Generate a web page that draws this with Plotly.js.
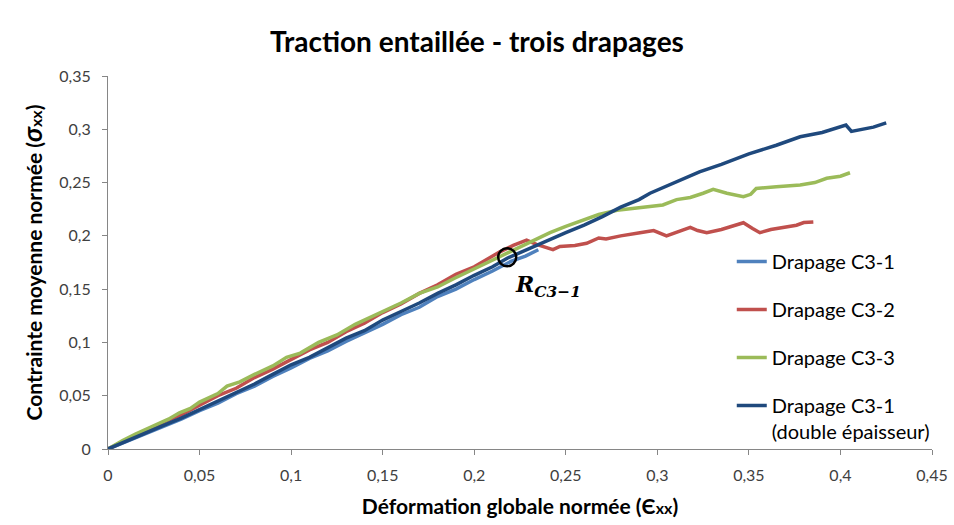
<!DOCTYPE html>
<html>
<head>
<meta charset="utf-8">
<script src="https://cdn.plot.ly/plotly-3.0.1.min.js"></script>
<style>html,body{margin:0;padding:0;background:#fff;}#chart{width:954px;height:525px;}</style>
</head>
<body>
<div id="chart"></div>
<script>
// ---- Data ----
const xC31 = [0,0.01,0.02,0.03,0.04,0.05,0.06,0.07,0.08,0.09,0.10,0.11,0.12,0.13,0.14,0.15,0.16,0.17,0.18,0.19,0.20,0.21,0.22,0.228,0.235];
const yC31 = [0,0.007,0.0145,0.021,0.028,0.036,0.043,0.052,0.059,0.068,0.076,0.085,0.092,0.101,0.109,0.117,0.126,0.133,0.143,0.150,0.159,0.167,0.176,0.181,0.187];

const xC32 = [0,0.01,0.02,0.03,0.04,0.05,0.06,0.07,0.08,0.09,0.10,0.11,0.12,0.13,0.14,0.15,0.16,0.17,0.18,0.19,0.20,0.2067,0.214,0.2213,0.2286,0.234,0.243,0.2468,0.255,0.2614,0.268,0.272,0.28,0.2905,0.298,0.305,0.312,0.318,0.322,0.327,0.335,0.341,0.347,0.352,0.356,0.362,0.3688,0.376,0.38,0.3852];
const yC32 = [0,0.008,0.0165,0.025,0.032,0.041,0.050,0.057,0.067,0.075,0.084,0.093,0.100,0.110,0.118,0.128,0.136,0.146,0.154,0.164,0.171,0.178,0.185,0.191,0.196,0.192,0.187,0.190,0.191,0.193,0.198,0.197,0.200,0.203,0.205,0.200,0.204,0.208,0.205,0.203,0.206,0.209,0.2123,0.207,0.203,0.206,0.208,0.210,0.2125,0.213];

const xC33 = [0,0.008,0.015,0.02,0.027,0.033,0.039,0.045,0.05,0.06,0.065,0.072,0.08,0.09,0.0975,0.105,0.115,0.125,0.135,0.145,0.152,0.16,0.17,0.18,0.189,0.20,0.21,0.22,0.23,0.2414,0.25,0.2595,0.268,0.278,0.288,0.296,0.303,0.3105,0.318,0.325,0.3305,0.338,0.347,0.351,0.354,0.365,0.378,0.386,0.3925,0.400,0.4052];
const yC33 = [0,0.008,0.014,0.018,0.024,0.028,0.034,0.038,0.044,0.052,0.059,0.063,0.070,0.078,0.086,0.090,0.100,0.107,0.117,0.125,0.131,0.137,0.146,0.152,0.160,0.169,0.178,0.186,0.194,0.203,0.209,0.215,0.220,0.224,0.226,0.227,0.229,0.234,0.236,0.240,0.2436,0.240,0.2367,0.239,0.2445,0.246,0.2477,0.250,0.254,0.256,0.2592];

const xC31d = [0,0.01,0.02,0.03,0.04,0.05,0.06,0.07,0.08,0.09,0.10,0.11,0.12,0.13,0.14,0.15,0.16,0.17,0.18,0.19,0.20,0.21,0.218,0.23,0.24,0.25,0.26,0.27,0.28,0.29,0.296,0.31,0.323,0.335,0.35,0.365,0.378,0.39,0.398,0.403,0.406,0.413,0.418,0.425];
const yC31d = [0,0.0075,0.0145,0.022,0.029,0.037,0.045,0.053,0.061,0.070,0.079,0.086,0.095,0.104,0.111,0.121,0.129,0.137,0.146,0.154,0.163,0.171,0.179,0.188,0.196,0.203,0.210,0.218,0.227,0.234,0.240,0.250,0.260,0.267,0.277,0.285,0.293,0.297,0.301,0.304,0.298,0.300,0.302,0.306];

const seriesNames = ['Drapage C3-1','Drapage C3-2','Drapage C3-3','Drapage C3-1<br>(double épaisseur)'];
const seriesColors = ['#4F81BD','#C0504D','#9BBB59','#1F497D'];

const xTickVals = [0,0.05,0.1,0.15,0.2,0.25,0.3,0.35,0.4,0.45];
const xTickText = ['0','0,05','0,1','0,15','0,2','0,25','0,3','0,35','0,4','0,45'];
const yTickVals = [0,0.05,0.1,0.15,0.2,0.25,0.3,0.35];
const yTickText = ['0','0,05','0,1','0,15','0,2','0,25','0,3','0,35'];

const markX = 0.218, markY = 0.180;
const markLabelX = 0.221, markLabelY = 0.153;

// ---- Chart ----
const FONT = 'Lato, "Open Sans", sans-serif';
const xs = [xC31, xC32, xC33, xC31d];
const ys = [yC31, yC32, yC33, yC31d];
const traces = xs.map((x, i) => ({
  x: x, y: ys[i], type: 'scatter', mode: 'lines',
  name: seriesNames[i], legendgroup: 'g' + i,
  line: {color: seriesColors[i], width: 3.5}
}));
const layout = {
  width: 954, height: 525,
  margin: {l: 108, r: 22, t: 76, b: 76},
  paper_bgcolor: '#fff', plot_bgcolor: '#fff',
  font: {family: FONT, color: '#404040', size: 16},
  title: {text: 'Traction entaillée - trois drapages', x: 0.5, xanchor: 'center', y: 0.92, yanchor: 'middle',
          font: {family: FONT, size: 28, weight: 'bold', color: '#000'}},
  xaxis: {range: [0, 0.45], tickvals: xTickVals, ticktext: xTickText, showgrid: false, zeroline: false,
          showline: true, linecolor: '#868686', linewidth: 1, ticks: 'outside', ticklen: 5, tickcolor: '#868686',
          ticklabelstandoff: 7,
          tickfont: {size: 16, color: '#404040'},
          title: {text: 'Déformation globale normée (<b>Є</b><span style="font-size:16px">xx</span>)', standoff: 16,
                  font: {family: FONT, size: 21, weight: 'bold', color: '#000'}}},
  yaxis: {range: [0, 0.35], tickvals: yTickVals, ticktext: yTickText, showgrid: false, zeroline: false,
          showline: true, linecolor: '#868686', linewidth: 1, ticks: 'outside', ticklen: 5, tickcolor: '#868686',
          ticklabelstandoff: 8,
          tickfont: {size: 16, color: '#404040'},
          title: {text: 'Contrainte moyenne normée (<i><span style="font-size:26px">σ</span></i><span style="font-size:16px">xx</span>)', standoff: 10,
                  font: {family: FONT, size: 21, weight: 'bold', color: '#000'}}},
  showlegend: true,
  legend: {x: 0.757, xanchor: 'left', y: 0.555, yanchor: 'top', bgcolor: 'rgba(0,0,0,0)',
           traceorder: 'grouped', tracegroupgap: 19, valign: 'top', itemwidth: 30,
           font: {family: FONT, size: 20, color: '#000'}},
  shapes: [{type: 'circle', xref: 'x', yref: 'y', xsizemode: 'pixel', ysizemode: 'pixel',
            xanchor: markX, yanchor: markY, x0: -9, x1: 9, y0: -9, y1: 9,
            line: {color: '#000', width: 2.5}}],
  annotations: [{x: markLabelX, y: markLabelY, xref: 'x', yref: 'y', xanchor: 'left', yanchor: 'middle', showarrow: false,
                 text: '<b><i>R</i></b><sub><b><i>C3−1</i></b></sub>',
                 font: {family: '"DejaVu Serif", "Liberation Serif", serif', size: 22, color: '#000'}}]
};
Plotly.newPlot('chart', traces, layout, {displayModeBar: false, staticPlot: true});
</script>
</body>
</html>
